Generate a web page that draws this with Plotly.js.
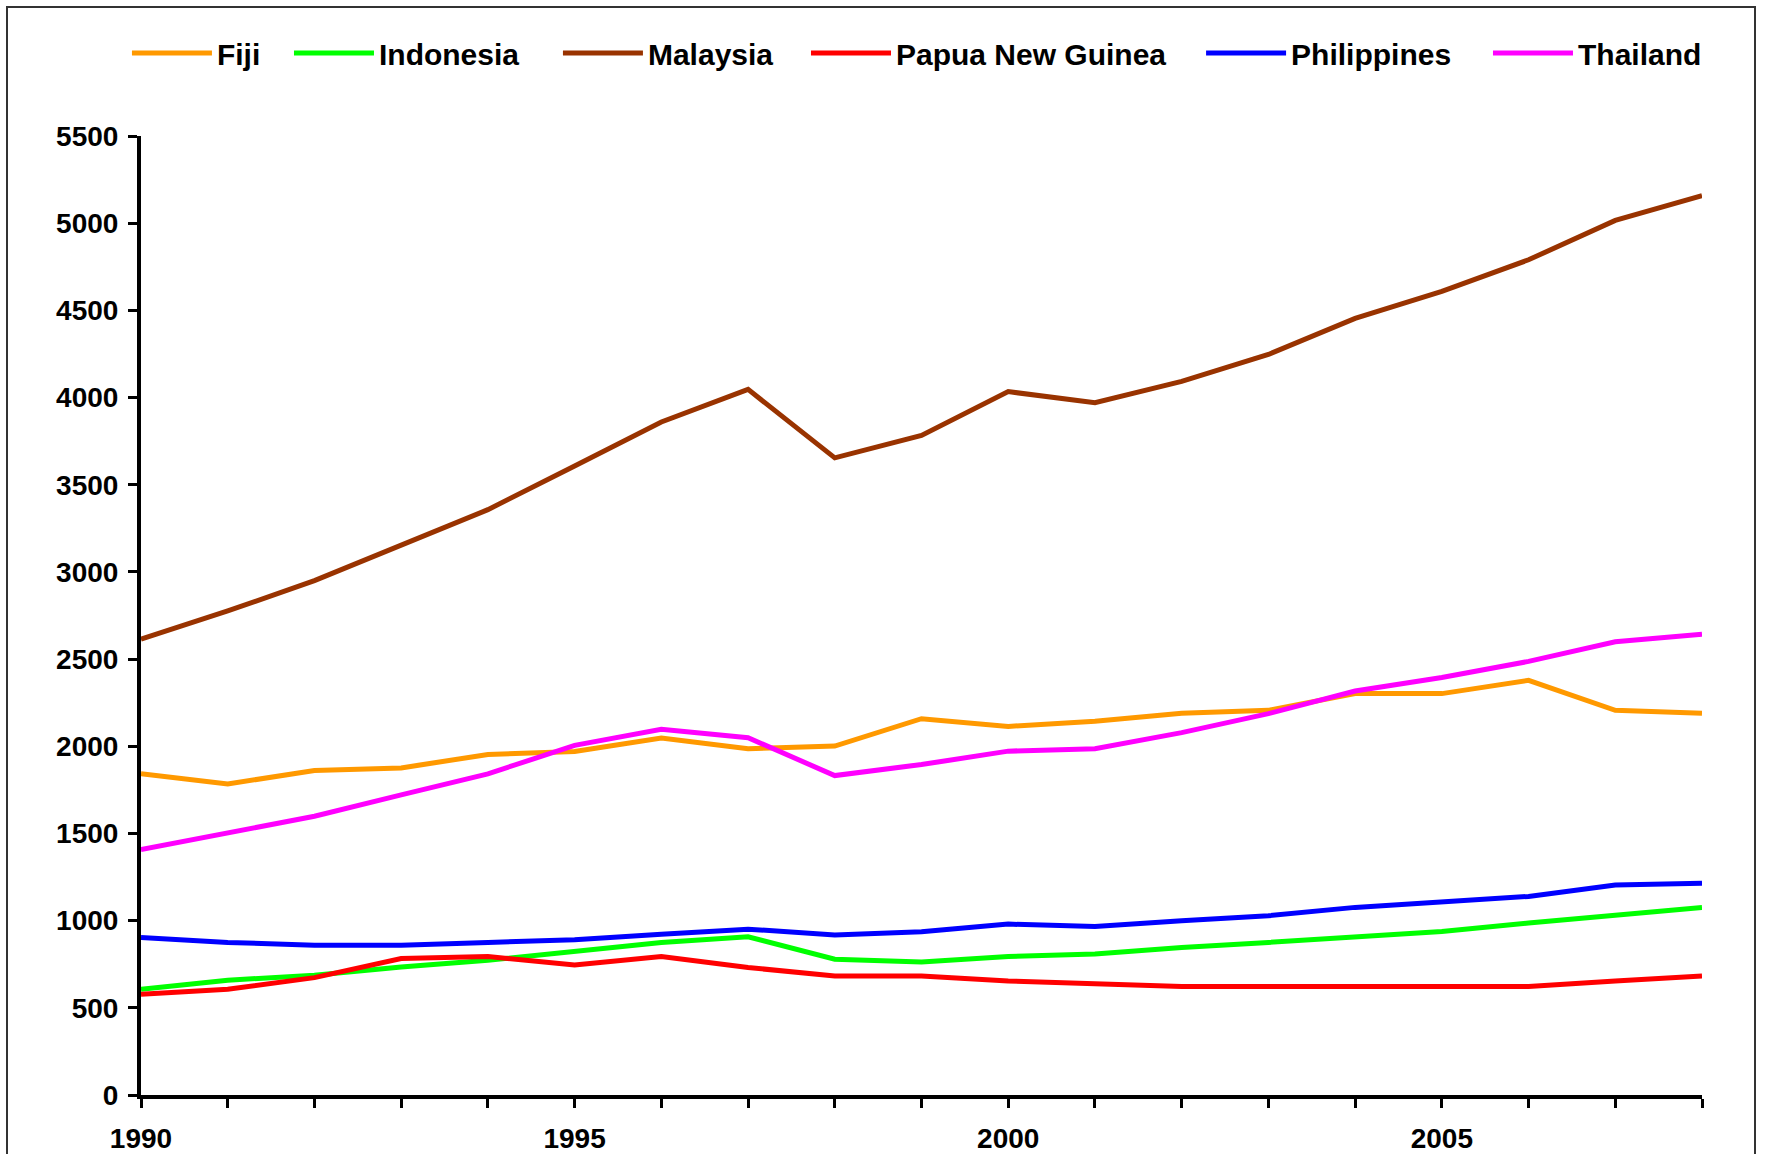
<!DOCTYPE html>
<html>
<head>
<meta charset="utf-8">
<script src="https://cdn.plot.ly/plotly-3.0.1.min.js"></script>
<style>
  html, body { margin: 0; padding: 0; background: #fff; overflow: hidden; }
  #chart { width: 1765px; height: 1154px; }
  #frame { position: absolute; left: 6px; top: 6px; width: 1750px; height: 1300px;
           border: 2px solid #333; box-sizing: border-box; pointer-events: none; }
</style>
</head>
<body>
<div id="chart"></div>
<div id="frame"></div>
<script>
const years = [1990,1991,1992,1993,1994,1995,1996,1997,1998,1999,2000,2001,2002,2003,2004,2005,2006,2007,2008];
const fiji        = [1842,1784,1861,1876,1953,1970,2047,1986,2001,2158,2114,2143,2189,2206,2302,2302,2378,2206,2189];
const indonesia   = [606,658,687,734,773,826,875,907,779,763,794,809,846,875,907,938,986,1032,1076];
const malaysia    = [2614,2776,2950,3157,3357,3608,3860,4047,3654,3783,4034,3970,4093,4247,4454,4609,4790,5016,5158];
const png         = [578,606,673,783,794,746,794,731,683,683,654,639,622,622,622,622,622,654,683];
const philippines = [903,875,859,859,875,890,922,951,918,936,980,967,999,1028,1076,1108,1139,1204,1215];
const thailand    = [1407,1503,1599,1721,1842,2005,2097,2049,1832,1895,1972,1986,2078,2187,2317,2394,2487,2599,2643];

const seriesNames  = ['Fiji','Indonesia','Malaysia','Papua New Guinea','Philippines','Thailand'];
const seriesValues = [fiji, indonesia, malaysia, png, philippines, thailand];
const seriesColors = ['#FF9900','#00FF00','#993300','#FF0000','#0000FF','#FF00FF'];

const yTicks = [0,500,1000,1500,2000,2500,3000,3500,4000,4500,5000,5500];
const xTickText = years.map(y => (y % 5 === 0 ? String(y) : ''));

// horizontal positions (paper fraction) of each legend entry
const legendX = [-0.009, 0.0948, 0.2671, 0.4260, 0.6791, 0.8629];
const legendIds = ['legend','legend2','legend3','legend4','legend5','legend6'];

const traces = seriesNames.map((n, i) => ({
  x: years, y: seriesValues[i], name: n, type: 'scatter', mode: 'lines',
  line: { color: seriesColors[i], width: 5 },
  legend: legendIds[i]
}));

const fontFam = '"Liberation Sans", Arial, sans-serif';
const layout = {
  width: 1765, height: 1154,
  margin: { l: 141, r: 63, t: 136, b: 59 },
  paper_bgcolor: '#ffffff', plot_bgcolor: '#ffffff',
  font: { family: fontFam, size: 28, color: '#000' },
  showlegend: true,
  xaxis: {
    range: [1990, 2008], tickmode: 'array', tickvals: years, ticktext: xTickText,
    showline: true, linecolor: '#000', linewidth: 4, ticks: 'outside', ticklen: 9, tickwidth: 3,
    tickcolor: '#000', showgrid: false, zeroline: false, ticklabelstandoff: 6,
    tickfont: { family: fontFam, size: 28, color: '#000', weight: 'bold' }
  },
  yaxis: {
    range: [0, 5500], tickmode: 'array', tickvals: yTicks,
    showline: true, linecolor: '#000', linewidth: 4, ticks: 'outside', ticklen: 9, tickwidth: 3,
    tickcolor: '#000', showgrid: false, zeroline: false, ticklabelstandoff: 4,
    tickfont: { family: fontFam, size: 28, color: '#000', weight: 'bold' }
  }
};
legendIds.forEach((id, i) => {
  layout[id] = {
    orientation: 'h', x: legendX[i], xanchor: 'left', y: 1.0866, yanchor: 'middle',
    font: { family: fontFam, size: 30, color: '#000', weight: 'bold' },
    itemwidth: 80, bgcolor: 'rgba(0,0,0,0)'
  };
});

Plotly.newPlot('chart', traces, layout, { displayModeBar: false, staticPlot: true });
</script>
</body>
</html>
